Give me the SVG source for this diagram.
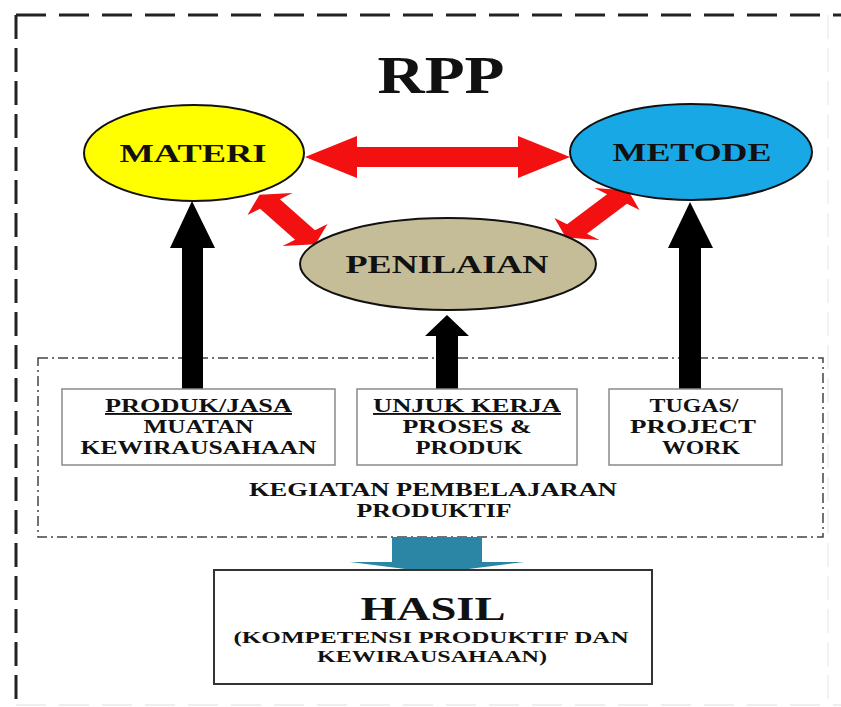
<svg xmlns="http://www.w3.org/2000/svg" width="841" height="707" viewBox="0 0 841 707">
<style>
text{font-family:"Liberation Serif","Times New Roman",serif;font-weight:bold;fill:#111;text-anchor:middle}
.ell{stroke:#111;stroke-width:2}
.box{fill:#fff;stroke:#8a8a8a;stroke-width:1.5}
.red{fill:#f21010}
.blk{fill:#000}
.ul{text-decoration:underline}
</style>
<rect width="841" height="707" fill="#fff"/>
<g id="border">
<line x1="16" y1="15" x2="841" y2="15" stroke="#222" stroke-width="3" stroke-dasharray="30 13"/>
<line x1="16" y1="15" x2="16" y2="707" stroke="#222" stroke-width="3" stroke-dasharray="24 9"/>
<line x1="828" y1="15" x2="828" y2="707" stroke="#f2f2f2" stroke-width="2" stroke-dasharray="24 9"/>
<line x1="16" y1="705" x2="841" y2="705" stroke="#eeeeee" stroke-width="2" stroke-dasharray="30 13"/>
</g>
<text id="title" x="441" y="93" font-size="52" textLength="127" lengthAdjust="spacingAndGlyphs">RPP</text>
<g id="kegiatan">
<rect x="38" y="358" width="785" height="179" fill="none" stroke="#444" stroke-width="1.5" stroke-dasharray="10 4 2 4"/>
<text x="433" y="496" font-size="19" textLength="368" lengthAdjust="spacingAndGlyphs">KEGIATAN PEMBELAJARAN</text>
<text x="434" y="517" font-size="19" textLength="155" lengthAdjust="spacingAndGlyphs">PRODUKTIF</text>
</g>
<g id="connectors">
<polygon class="red" points="305,157 357,136 357,147 518,147 518,136 570,157 518,178 518,167 357,167 357,178"/>
<polygon class="red" points="259.5,194.7 292.5,193 279.9,199.2 314.9,230.2 327.5,224 315.5,244.3 282.5,246 295.1,239.8 260.1,208.8 247.5,215"/>
<polygon class="red" points="628.2,190.6 639.5,210 626.9,203.8 586.9,233.8 599.5,240 565.8,237.4 554.5,218 567.1,224.2 607.1,194.2 594.5,188"/>
<polygon class="blk" points="192,201 215,248 203,248 203,390 182,390 182,248 170,248"/>
<polygon class="blk" points="447,315 469,336 458,336 458,390 436,390 436,336 425,336"/>
<polygon class="blk" points="690,202 713,248 701,248 701,390 679,390 679,248 668,248"/>
<polygon fill="#2b85a5" points="392,537 482,537 482,562 524,562 437,573 350,562 392,562"/>
</g>
<g id="materi">
<ellipse class="ell" cx="194" cy="153" rx="110" ry="48" fill="#ffff00"/>
<text x="193" y="162" font-size="25" textLength="147" lengthAdjust="spacingAndGlyphs">MATERI</text>
</g>
<g id="metode">
<ellipse class="ell" cx="691" cy="152" rx="121" ry="48" fill="#19a8e6"/>
<text x="692" y="161" font-size="25" fill="#0a2a44" textLength="159" lengthAdjust="spacingAndGlyphs">METODE</text>
</g>
<g id="penilaian">
<ellipse class="ell" cx="448" cy="264" rx="148" ry="46" fill="#c4bd97"/>
<text x="447" y="273" font-size="25" textLength="203" lengthAdjust="spacingAndGlyphs">PENILAIAN</text>
</g>
<g id="produk">
<rect class="box" x="62" y="389" width="273" height="76"/>
<text class="ul" x="198.5" y="412" font-size="19" textLength="187" lengthAdjust="spacingAndGlyphs">PRODUK/JASA</text>
<text x="198.5" y="433" font-size="19" textLength="110" lengthAdjust="spacingAndGlyphs">MUATAN</text>
<text x="198.5" y="454" font-size="19" textLength="236" lengthAdjust="spacingAndGlyphs">KEWIRAUSAHAAN</text>
</g>
<g id="unjuk">
<rect class="box" x="357" y="389" width="220" height="76"/>
<text class="ul" x="467" y="412" font-size="19" textLength="188" lengthAdjust="spacingAndGlyphs">UNJUK KERJA</text>
<text x="467" y="433" font-size="19" textLength="129" lengthAdjust="spacingAndGlyphs">PROSES &amp;</text>
<text x="469" y="454" font-size="19" textLength="107" lengthAdjust="spacingAndGlyphs">PRODUK</text>
</g>
<g id="tugas">
<rect class="box" x="609" y="389" width="173" height="76"/>
<text x="694" y="412" font-size="19" textLength="89" lengthAdjust="spacingAndGlyphs">TUGAS/</text>
<text x="693" y="433" font-size="19" textLength="126" lengthAdjust="spacingAndGlyphs">PROJECT</text>
<text x="701" y="454" font-size="19" textLength="78" lengthAdjust="spacingAndGlyphs">WORK</text>
</g>
<g id="hasil">
<rect x="214" y="570" width="438" height="114" fill="#fff" stroke="#333" stroke-width="2"/>
<text x="433" y="620" font-size="34" textLength="145" lengthAdjust="spacingAndGlyphs">HASIL</text>
<text x="431" y="643" font-size="16" textLength="395" lengthAdjust="spacingAndGlyphs">(KOMPETENSI PRODUKTIF DAN</text>
<text x="432" y="662" font-size="16" textLength="230" lengthAdjust="spacingAndGlyphs">KEWIRAUSAHAAN)</text>
</g>
</svg>
